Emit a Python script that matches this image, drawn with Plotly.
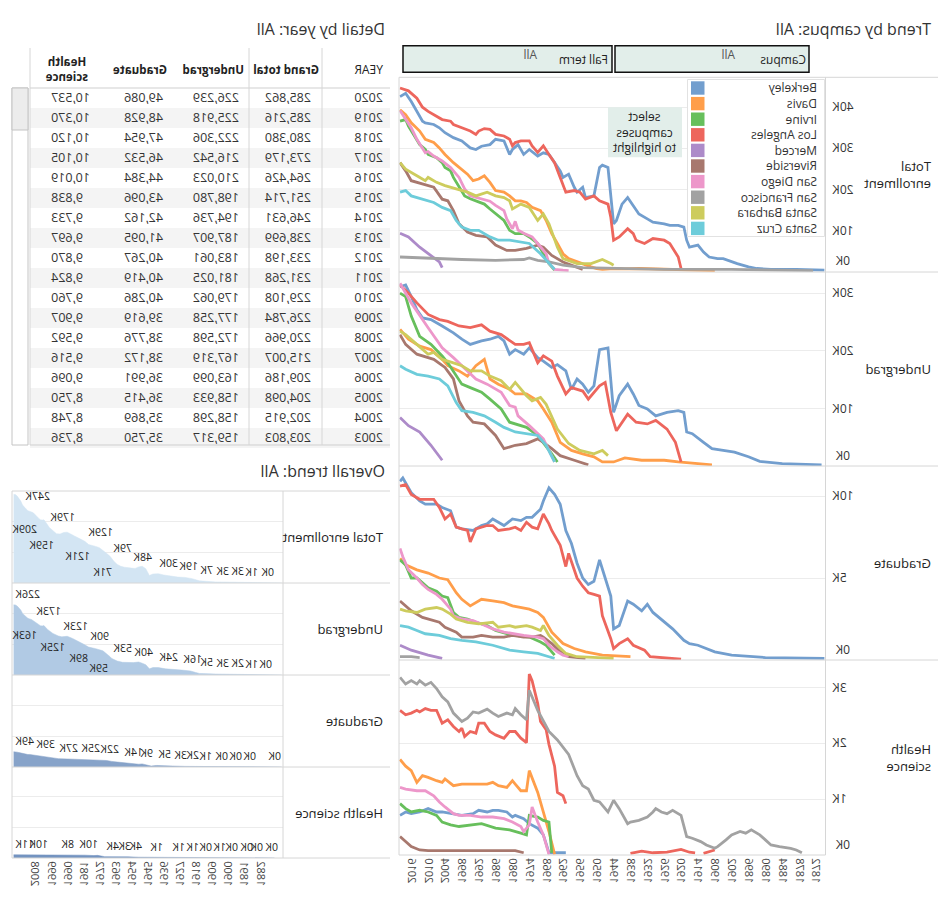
import plotly.graph_objects as go

W, H = 950, 900
FONT = "Open Sans"
INK = "#333333"

# ---------------- categories ----------------
campuses = ["Berkeley", "Davis", "Irvine", "Los Angeles", "Merced", "Riverside",
            "San Diego", "San Francisco", "Santa Barbara", "Santa Cruz"]
metrics = ["Total<br>enrollment", "Undergrad", "Graduate", "Health<br>science"]
overall_metrics = ["Total enrollment", "Undergrad", "Graduate", "Health science"]

# ---------------- detail table ----------------
table_years = [2020, 2019, 2018, 2017, 2016, 2015, 2014, 2013, 2012, 2011, 2010, 2009,
               2008, 2007, 2006, 2005, 2004, 2003]
grand_total = [285862, 285216, 280380, 273179, 264426, 251714, 246631, 238699, 233198,
               231268, 229108, 226784, 220966, 215007, 209186, 204098, 202915, 203803]
undergrad = [226239, 225918, 222306, 216542, 210023, 198780, 194736, 187907, 183061,
             181025, 179062, 177258, 172598, 167319, 163099, 158933, 158298, 159317]
graduate = [49086, 48928, 47954, 46532, 44384, 43096, 42162, 41095, 40267, 40419, 40286,
            39619, 38776, 38172, 36991, 36415, 35869, 35750]
health = [10537, 10370, 10120, 10105, 10019, 9838, 9733, 9697, 9870, 9824, 9760, 9907,
          9592, 9516, 9096, 8750, 8748, 8736]

# ---------------- trend by campus (thousands) ----------------
# Total enrollment
tot_berkeley_yr = [2020, 2018, 2016, 2014, 2012, 2011, 2008, 2006, 2004, 2001, 1998, 1995, 1993, 1991, 1988, 1986, 1983, 1981, 1980, 1978, 1976, 1974, 1971, 1969, 1967, 1965, 1963, 1962, 1960, 1958, 1957, 1955, 1954, 1951, 1949, 1948, 1946, 1944, 1943, 1941, 1939, 1937, 1935, 1932, 1930, 1926, 1924, 1921, 1919, 1918, 1917, 1914, 1912, 1910, 1907, 1905, 1902, 1900, 1896, 1893, 1888, 1879, 1869]
tot_berkeley = [42.6, 43.4, 41.4, 39.0, 36.6, 36.2, 35.8, 35.0, 33.8, 32.6, 31.8, 30.1, 29.7, 30.5, 30.9, 32.2, 31.8, 28.5, 29.7, 30.9, 28.5, 29.7, 28.1, 28.9, 28.5, 26.5, 24.5, 22.9, 23.7, 20.5, 19.3, 20.5, 18.0, 18.4, 25.3, 25.9, 25.3, 11.6, 12.4, 16.4, 18.0, 16.0, 14.0, 12.8, 12.0, 11.6, 11.2, 11.2, 10.8, 7.6, 5.9, 6.4, 4.7, 3.5, 3.1, 3.1, 2.3, 1.9, 1.1, 0.7, 0.5, 0.5, 0.3]
tot_davis_yr = [2020, 2018, 2016, 2013, 2011, 2008, 2006, 2004, 2001, 1999, 1996, 1994, 1992, 1990, 1988, 1986, 1983, 1981, 1979, 1977, 1975, 1973, 1970, 1968, 1966, 1964, 1962, 1960, 1957, 1955, 1952, 1950, 1948, 1944, 1940, 1935, 1930, 1925, 1920, 1915, 1910, 1908]
tot_davis = [39.4, 38.2, 36.2, 34.2, 32.2, 31.4, 30.1, 28.5, 26.5, 25.3, 23.7, 22.1, 22.5, 23.3, 21.7, 19.7, 19.3, 18.4, 17.2, 17.2, 16.8, 15.6, 14.8, 12.4, 9.2, 6.8, 4.3, 3.1, 2.3, 1.9, 1.1, 0.7, 0.5, 0.7, 0.6, 0.7, 0.6, 0.5, 0.5, 0.4, 0.3, 0.2]
tot_irvine_yr = [2020, 2018, 2017, 2015, 2013, 2011, 2010, 2007, 2005, 2004, 2002, 2001, 1999, 1997, 1995, 1993, 1990, 1988, 1986, 1983, 1981, 1979, 1976, 1974, 1971, 1969, 1967, 1965]
tot_irvine = [36.6, 37.0, 35.4, 33.0, 30.9, 29.7, 28.5, 27.7, 26.5, 25.3, 24.5, 22.9, 20.5, 18.4, 17.7, 17.2, 16.4, 15.2, 14.0, 12.4, 10.0, 9.2, 9.2, 8.4, 6.8, 4.3, 1.9, 0.3]
tot_la_yr = [2020, 2017, 2014, 2012, 2010, 2007, 2005, 2002, 2001, 1998, 1995, 1993, 1992, 1990, 1988, 1986, 1983, 1981, 1980, 1979, 1977, 1974, 1973, 1971, 1969, 1967, 1965, 1963, 1961, 1958, 1956, 1954, 1951, 1949, 1946, 1945, 1944, 1942, 1939, 1937, 1936, 1933, 1930, 1926, 1924, 1921, 1920]
tot_la = [44.7, 44.0, 42.2, 40.0, 39.0, 37.8, 37.0, 36.6, 35.8, 35.0, 34.2, 33.4, 34.2, 34.8, 34.6, 33.4, 33.0, 32.2, 30.6, 31.4, 31.8, 31.8, 30.6, 29.0, 30.6, 28.5, 26.5, 22.9, 19.3, 19.7, 19.3, 17.6, 18.4, 17.2, 16.4, 13.2, 7.6, 8.4, 10.4, 9.2, 7.6, 6.8, 8.0, 7.6, 6.8, 3.5, 0.7]
tot_merced_yr = [2020, 2017, 2013, 2010, 2006, 2005]
tot_merced = [9.3, 8.4, 5.9, 4.3, 2.3, 0.9]
tot_riverside_yr = [2020, 2018, 2016, 2012, 2008, 2005, 2003, 2001, 1999, 1996, 1993, 1989, 1986, 1982, 1979, 1975, 1971, 1969, 1966, 1962, 1957, 1955]
tot_riverside = [26.5, 24.5, 22.1, 21.3, 20.5, 17.6, 17.2, 14.8, 11.6, 9.6, 8.8, 8.4, 6.4, 5.1, 5.1, 5.6, 6.4, 5.9, 3.9, 2.3, 1.1, 0.5]
tot_sandiego_yr = [2020, 2016, 2014, 2011, 2010, 2008, 2005, 2002, 1999, 1997, 1995, 1992, 1988, 1986, 1983, 1982, 1980, 1979, 1978, 1976, 1973, 1971, 1968, 1967, 1965, 1962, 1960]
tot_sandiego = [39.2, 35.0, 32.2, 28.9, 29.2, 28.1, 26.9, 25.3, 22.9, 20.1, 18.4, 17.9, 17.1, 16.1, 14.8, 12.8, 10.4, 12.2, 10.1, 9.3, 8.4, 6.8, 4.3, 1.9, 0.5, 0.3, 0.2]
tot_sf_yr = [2020, 2014, 2007, 1998, 1986, 1976, 1974, 1971, 1967, 1962, 1955, 1944, 1926, 1902, 1879, 1873]
tot_sf = [3.5, 3.3, 3.1, 2.9, 2.7, 2.9, 3.3, 2.7, 2.3, 1.5, 0.9, 0.7, 0.5, 0.5, 0.3, 0.2]
tot_sb_yr = [2020, 2018, 2014, 2011, 2010, 2007, 2004, 2000, 1996, 1993, 1989, 1986, 1983, 1981, 1980, 1977, 1974, 1971, 1969, 1967, 1964, 1962, 1957, 1952, 1948, 1945, 1944]
tot_sb = [26.5, 24.9, 23.3, 22.1, 22.9, 21.7, 20.9, 20.1, 19.3, 18.4, 19.3, 18.4, 18.0, 17.2, 15.2, 16.4, 15.6, 12.4, 14.0, 11.6, 5.9, 3.1, 1.9, 1.9, 2.9, 1.9, 1.5]
tot_sc_yr = [2020, 2018, 2016, 2012, 2008, 2005, 2002, 2000, 1998, 1995, 1992, 1988, 1985, 1981, 1977, 1974, 1970, 1967, 1965]
tot_sc = [19.3, 19.7, 18.4, 17.6, 16.8, 15.6, 14.8, 12.4, 10.8, 10.0, 10.0, 8.4, 7.6, 7.6, 7.2, 6.8, 4.3, 1.9, 0.5]

# Undergrad
ug_berkeley_yr = [2020, 2018, 2016, 2014, 2012, 2009, 2005, 2001, 1998, 1995, 1991, 1988, 1985, 1983, 1981, 1979, 1976, 1974, 1971, 1969, 1966, 1964, 1961, 1959, 1957, 1955, 1953, 1951, 1949, 1946, 1944, 1942, 1939, 1937, 1935, 1932, 1929, 1925, 1921, 1919, 1918, 1916, 1912, 1909, 1905, 1901, 1896, 1892, 1884, 1870]
ug_berkeley = [31.1, 31.4, 29.4, 27.1, 25.7, 25.4, 24.3, 23.1, 22.0, 21.1, 21.7, 22.0, 22.5, 21.7, 19.4, 20.2, 19.4, 20.5, 18.8, 18.2, 17.1, 17.6, 16.5, 13.3, 15.1, 14.2, 12.8, 13.9, 20.2, 20.5, 9.3, 12.2, 14.2, 12.5, 10.5, 9.9, 8.7, 9.3, 9.6, 9.3, 5.9, 5.6, 4.1, 3.0, 2.7, 2.4, 1.6, 0.8, 0.4, 0.2]
ug_davis_yr = [2020, 2017, 2013, 2009, 2005, 2003, 1999, 1996, 1993, 1990, 1988, 1985, 1981, 1979, 1975, 1971, 1969, 1966, 1963, 1959, 1955, 1951, 1948, 1944, 1940, 1934, 1926, 1921, 1909]
ug_davis = [23.7, 22.0, 20.8, 20.2, 18.5, 17.4, 16.5, 15.6, 17.4, 18.5, 15.1, 14.2, 13.3, 12.5, 12.5, 11.3, 9.9, 7.6, 4.1, 2.7, 2.1, 1.6, 0.7, 0.7, 1.4, 1.0, 1.0, 0.7, 0.2]
ug_irvine_yr = [2020, 2018, 2016, 2013, 2009, 2005, 2003, 2000, 1998, 1995, 1991, 1988, 1984, 1981, 1979, 1975, 1971, 1969, 1966, 1964]
ug_irvine = [30.0, 29.4, 26.0, 22.5, 21.1, 19.1, 17.9, 15.6, 14.2, 13.6, 12.8, 11.6, 9.9, 7.6, 7.3, 6.7, 5.3, 4.1, 2.1, 0.7]
ug_la_yr = [2020, 2017, 2014, 2010, 2006, 2003, 1999, 1995, 1991, 1988, 1984, 1981, 1979, 1976, 1974, 1971, 1969, 1966, 1964, 1961, 1959, 1955, 1953, 1949, 1947, 1945, 1943, 1939, 1936, 1932, 1929, 1925, 1922, 1920]
ug_la = [31.4, 30.0, 28.3, 26.3, 25.4, 25.1, 24.3, 24.0, 24.5, 23.4, 22.8, 21.7, 21.1, 21.1, 21.4, 17.9, 19.1, 18.2, 15.6, 12.5, 13.6, 13.0, 11.6, 13.9, 14.5, 9.3, 6.1, 9.0, 7.6, 7.3, 7.9, 6.4, 4.1, 0.7]
ug_merced_yr = [2020, 2017, 2013, 2009, 2005]
ug_merced = [8.4, 7.0, 5.9, 3.6, 1.0]
ug_riverside_yr = [2020, 2018, 2014, 2010, 2008, 2004, 2001, 1999, 1996, 1994, 1990, 1986, 1983, 1979, 1975, 1971, 1969, 1966, 1963, 1958, 1953]
ug_riverside = [22.8, 21.1, 19.4, 18.8, 18.5, 17.1, 15.1, 11.3, 8.7, 7.6, 7.3, 5.3, 3.0, 3.6, 3.9, 4.7, 4.1, 3.0, 1.8, 1.0, 0.2]
ug_sandiego_yr = [2020, 2016, 2010, 2005, 2001, 1996, 1993, 1989, 1984, 1981, 1979, 1978, 1974, 1969, 1965]
ug_sandiego = [31.7, 28.3, 24.0, 20.5, 18.8, 16.5, 15.1, 14.2, 12.8, 10.5, 10.2, 8.7, 7.0, 4.7, 0.7]
ug_sf_yr = []
ug_sf = []
ug_sb_yr = [2020, 2018, 2014, 2012, 2010, 2008, 2005, 2001, 1998, 1995, 1991, 1988, 1984, 1981, 1979, 1975, 1973, 1970, 1968, 1964, 1960, 1956, 1951, 1948, 1946]
ug_sb = [23.4, 22.8, 21.1, 20.2, 19.4, 19.7, 18.5, 17.9, 17.4, 16.5, 16.5, 15.6, 14.8, 13.3, 14.5, 12.2, 11.3, 11.9, 10.7, 6.4, 3.9, 2.7, 2.1, 2.7, 1.8]
ug_sc_yr = [2020, 2018, 2014, 2010, 2006, 2003, 2000, 1998, 1994, 1990, 1986, 1983, 1979, 1975, 1971, 1968, 1965]
ug_sc = [17.4, 16.8, 15.9, 15.6, 15.1, 13.9, 11.0, 9.6, 9.3, 8.7, 7.6, 6.7, 5.9, 5.6, 5.3, 3.6, 0.7]

# Graduate
gr_berkeley_yr = [2020, 2019, 2016, 2013, 2011, 2007, 2005, 2002, 2000, 1998, 1994, 1991, 1989, 1987, 1985, 1983, 1980, 1977, 1975, 1973, 1970, 1969, 1967, 1965, 1963, 1961, 1959, 1957, 1955, 1953, 1951, 1949, 1947, 1945, 1944, 1942, 1939, 1937, 1934, 1932, 1930, 1926, 1923, 1919, 1917, 1914, 1908, 1902, 1890, 1869]
gr_berkeley = [10.9, 11.1, 10.2, 9.7, 9.5, 9.5, 9.3, 9.1, 8.1, 8.0, 7.9, 8.2, 8.3, 8.6, 8.4, 8.2, 8.6, 8.5, 8.7, 8.7, 9.2, 9.7, 10.5, 10.1, 9.5, 7.9, 7.1, 5.9, 5.0, 4.6, 4.8, 6.1, 5.0, 3.9, 1.9, 2.1, 3.6, 3.4, 3.0, 3.4, 2.9, 2.3, 1.9, 1.2, 1.0, 0.9, 0.5, 0.3, 0.15, 0.1]
gr_davis_yr = [2020, 2018, 2014, 2012, 2010, 2006, 2003, 2000, 1998, 1995, 1993, 1991, 1987, 1983, 1980, 1977, 1974, 1971, 1969, 1966, 1962, 1958, 1954, 1948, 1938]
gr_davis = [6.2, 5.8, 5.5, 5.4, 5.3, 5.0, 4.9, 4.1, 3.7, 3.3, 3.5, 3.7, 3.6, 3.5, 3.3, 3.2, 3.1, 2.9, 2.6, 1.7, 1.0, 0.7, 0.5, 0.3, 0.2]
gr_irvine_yr = [2020, 2018, 2016, 2014, 2012, 2010, 2007, 2005, 2003, 2001, 1999, 1996, 1993, 1989, 1986, 1982, 1979, 1974, 1970, 1968, 1965]
gr_irvine = [6.1, 5.8, 5.0, 5.0, 4.7, 4.4, 4.2, 3.9, 3.8, 2.9, 2.6, 2.5, 2.3, 2.1, 1.8, 1.6, 1.5, 1.4, 1.1, 0.9, 0.3]
gr_la_yr = [2020, 2018, 2016, 2013, 2011, 2008, 2006, 2004, 2002, 2000, 1998, 1996, 1995, 1993, 1989, 1987, 1985, 1981, 1979, 1977, 1975, 1973, 1971, 1969, 1967, 1966, 1963, 1961, 1960, 1958, 1957, 1955, 1953, 1951, 1949, 1948, 1945, 1944, 1942, 1939, 1937, 1933, 1931, 1920]
gr_la = [10.6, 10.7, 10.1, 9.8, 9.8, 9.8, 9.3, 8.6, 8.9, 8.1, 8.0, 7.9, 7.2, 8.0, 8.2, 8.2, 7.9, 8.0, 8.1, 7.9, 8.4, 8.1, 8.0, 8.9, 8.3, 7.9, 7.0, 5.7, 6.5, 5.5, 5.0, 4.5, 4.1, 4.0, 3.9, 2.7, 1.3, 0.7, 1.0, 1.3, 0.9, 0.6, 0.2, 0.05]
gr_merced_yr = [2020, 2016, 2010, 2005]
gr_merced = [0.9, 0.6, 0.3, 0.1]
gr_riverside_yr = [2020, 2018, 2016, 2012, 2010, 2006, 2004, 2000, 1998, 1994, 1991, 1987, 1983, 1980, 1976, 1973, 1970, 1969, 1966, 1963, 1960, 1954]
gr_riverside = [3.6, 3.3, 3.0, 2.6, 2.5, 2.3, 2.0, 1.7, 1.4, 1.4, 1.5, 1.4, 1.4, 1.5, 1.4, 1.4, 1.5, 1.4, 1.0, 0.5, 0.2, 0.1]
gr_sandiego_yr = [2020, 2019, 2017, 2014, 2012, 2010, 2007, 2005, 2002, 2001, 1998, 1994, 1991, 1987, 1983, 1980, 1976, 1971, 1969, 1967, 1964, 1962, 1960]
gr_sandiego = [6.8, 6.3, 5.5, 5.0, 4.6, 4.3, 4.0, 3.7, 3.1, 2.7, 2.5, 2.4, 2.2, 1.9, 1.7, 1.6, 1.5, 1.4, 1.3, 0.9, 0.5, 0.3, 0.2]
gr_sf_yr = [2020, 2016, 2013]
gr_sf = [0.2, 0.2, 0.15]
gr_sb_yr = [2020, 2018, 2014, 2011, 2007, 2005, 2002, 2000, 1996, 1992, 1987, 1985, 1981, 1979, 1975, 1973, 1970, 1969, 1967, 1964, 1961, 1957, 1944]
gr_sb = [3.1, 3.0, 2.9, 3.1, 3.2, 3.1, 2.8, 2.5, 2.3, 2.2, 2.3, 2.0, 2.1, 2.0, 2.1, 2.0, 1.8, 2.1, 1.5, 0.9, 0.4, 0.2, 0.1]
gr_sc_yr = [2020, 2017, 2014, 2011, 2006, 2002, 1998, 1993, 1987, 1981, 1976, 1971, 1967, 1965]
gr_sc = [2.1, 2.0, 1.8, 1.6, 1.5, 1.3, 1.2, 1.1, 0.9, 0.6, 0.5, 0.4, 0.2, 0.1]

# Health science
hs_berkeley_yr = [2020, 2018, 2016, 2013, 2010, 2007, 2005, 2001, 1998, 1994, 1992, 1989, 1987, 1985, 1982, 1980, 1979, 1976, 1974, 1971, 1969, 1967, 1961]
hs_berkeley = [0.71, 0.77, 0.74, 0.77, 0.83, 0.77, 0.77, 0.74, 0.71, 0.74, 0.80, 0.77, 0.80, 0.80, 0.77, 0.68, 0.71, 0.65, 0.56, 0.48, 0.36, 0.04, 0.04]
hs_davis_yr = [2020, 2018, 2016, 2014, 2012, 2010, 2007, 2005, 2004, 2001, 1998, 1993, 1989, 1987, 1985, 1982, 1980, 1979, 1977, 1975, 1974, 1971, 1969, 1967, 1965]
hs_davis = [1.71, 1.59, 1.51, 1.30, 1.42, 1.39, 1.33, 1.30, 1.36, 1.24, 1.27, 1.27, 1.27, 1.30, 1.24, 1.21, 1.33, 1.27, 1.15, 1.15, 1.51, 1.12, 0.77, 0.42, 0.01]
hs_irvine_yr = [2020, 2018, 2016, 2013, 2010, 2007, 2005, 2002, 1999, 1995, 1991, 1986, 1981, 1977, 1975, 1974, 1971, 1969, 1967, 1966]
hs_irvine = [0.92, 0.83, 0.77, 0.80, 0.77, 0.71, 0.59, 0.54, 0.51, 0.54, 0.56, 0.48, 0.45, 0.39, 0.36, 0.71, 0.68, 0.62, 0.59, 0.04]
hs_la_yr = [2020, 2018, 2016, 2014, 2013, 2011, 2009, 2007, 2005, 2003, 2001, 1999, 1998, 1997, 1995, 1993, 1992, 1990, 1988, 1986, 1983, 1981, 1979, 1977, 1975, 1974, 1973, 1971, 1970, 1968, 1967, 1965, 1964, 1962, 1961, None, 1938, 1934, 1930, 1925, 1920, 1917, 1915, None, 1912, 1910, 1908]
hs_la = [2.59, 2.51, 2.54, 2.59, 2.56, 2.62, 2.59, 2.59, 2.36, 2.42, 2.30, 2.21, 2.27, 2.12, 2.21, 2.18, 2.36, 2.36, 2.21, 2.15, 2.09, 2.21, 2.21, 2.09, 2.01, 3.24, 3.12, 2.71, 2.39, 2.24, 1.98, 1.59, 1.12, 1.06, 0.92, None, 0.03, 0.07, 0.04, 0.05, 0.10, 0.05, 0.04, None, 0.03, 0.06, 0.09]
hs_merced_yr = []
hs_merced = []
hs_riverside_yr = [2020, 2018, 2016, 2013, 2010, 1998, 1986, 1979, 1976]
hs_riverside = [0.33, 0.24, 0.15, 0.09, 0.08, 0.08, 0.08, 0.08, 0.04]
hs_sandiego_yr = [2020, 2018, 2014, 2011, 2008, 2006, 2004, 2001, 1999, 1995, 1991, 1987, 1983, 1980, 1977, 1976, 1974, 1973, 1971, 1969, 1967]
hs_sandiego = [1.21, 1.18, 1.15, 1.15, 1.06, 0.95, 0.86, 0.74, 0.71, 0.71, 0.68, 0.68, 0.65, 0.59, 0.51, 0.42, 0.54, 0.86, 0.59, 0.36, 0.01]
hs_sf_yr = [2020, 2018, 2016, 2014, 2013, 2011, 2009, 2007, 2005, 2003, 2001, 1998, 1996, 1994, 1992, 1989, 1987, 1985, 1982, 1980, 1979, 1977, 1975, 1974, 1971, 1969, 1967, 1964, 1962, 1960, 1957, 1955, 1953, 1951, 1949, 1946, 1944, 1942, 1939, 1938, 1935, 1932, 1930, 1929, 1927, 1925, 1923, 1920, 1918, 1916, 1913, 1911, 1908, 1907, 1904, 1902, 1899, 1897, 1895, 1892, 1890, 1888, 1885, 1883, 1881, 1879, 1877]
hs_sf = [3.18, 3.06, 3.12, 3.06, 3.12, 3.04, 3.09, 2.98, 2.83, 2.74, 2.54, 2.39, 2.45, 2.56, 2.54, 2.61, 2.54, 2.48, 2.54, 2.51, 2.62, 2.51, 2.42, 2.95, 2.59, 2.39, 2.21, 2.06, 1.92, 1.80, 1.42, 1.24, 1.18, 0.98, 0.95, 0.77, 0.98, 0.83, 0.56, 0.59, 0.62, 0.68, 0.77, 0.83, 0.77, 0.74, 0.80, 0.71, 0.33, 0.30, 0.24, 0.18, 0.12, 0.15, 0.27, 0.36, 0.42, 0.39, 0.45, 0.36, 0.27, 0.18, 0.15, 0.14, 0.12, 0.09, 0.04]
hs_sb_yr = []
hs_sb = []
hs_sc_yr = []
hs_sc = []

# ---------------- overall trend (thousands, before the table years) ----------------
ov_total_hist_yr = [2002, 2000, 1998, 1996, 1994, 1992, 1990, 1988, 1986, 1984, 1982, 1980, 1979, 1978, 1976, 1974, 1972, 1970, 1968, 1966, 1965, 1964, 1962, 1960, 1958, 1956, 1954, 1952, 1950, 1948, 1946, 1944, 1943, 1942, 1940, 1939, 1936, 1932, 1928, 1924, 1920, 1916, 1912, 1907, 1904, 1899, 1895, 1891, 1887, 1882, 1876, 1870]
ov_total_hist = [196, 179, 168, 159, 158, 163, 164, 158, 152, 147, 140, 134, 129, 124, 121, 118, 114, 106, 96, 86, 79, 71, 60, 54, 51, 49, 48, 47, 52, 54, 46, 24, 27, 29, 30, 30, 26, 22, 19, 18, 14, 7, 5.5, 3.4, 3.1, 2.6, 1.5, 1.2, 0.8, 0.4, 0.3, 0.2]
ov_ug_hist_yr = [2001, 1998, 1995, 1993, 1990, 1987, 1984, 1981, 1978, 1977, 1974, 1970, 1968, 1966, 1965, 1962, 1959, 1956, 1953, 1950, 1948, 1946, 1944, 1942, 1939, 1935, 1931, 1926, 1921, 1918, 1916, 1911, 1907, 1903, 1899, 1895, 1891, 1887, 1883, 1876, 1870]
ov_ug_hist = [147, 134, 126, 123, 125, 118, 110, 100, 90, 89, 85, 78, 68, 59, 53, 45, 41, 40, 40, 42, 38, 33, 20, 24, 24, 20, 17, 16, 13, 8, 5, 4, 3, 2.4, 2, 1.3, 1.0, 0.6, 0.4, 0.2, 0.1]
ov_gr_hist_yr = [2000, 1995, 1990, 1983, 1978, 1972, 1968, 1965, 1962, 1959, 1955, 1950, 1948, 1945, 1943, 1940, 1935, 1931, 1924, 1917, 1908, 1900, 1892, 1884, 1878, 1870]
ov_gr_hist = [31, 27, 26, 25, 24, 22, 21, 18, 16, 14, 11, 9, 10, 5, 3, 5, 4, 3, 2, 1, 0.4, 0.2, 0.1, 0.05, 0.05, 0.05]
ov_hs_hist_yr = [2000, 1994, 1990, 1984, 1980, 1975, 1973, 1969, 1962, 1956, 1950, 1944, 1932, 1924, 1917, 1909, 1902, 1894, 1888, 1880, 1874]
ov_hs_hist = [8.5, 8.2, 9.0, 9.6, 9.3, 8.0, 8.6, 4.4, 3.2, 3.8, 2.5, 1.2, 0.9, 0.8, 0.4, 0.6, 0.3, 0.3, 0.2, 0.1, 0.05]

# labelled years on the overall areas
lab_total_yr = [2014, 2006, 2000, 1996, 1979, 1976, 1965, 1964, 1954, 1939, 1928, 1916, 1907, 1899, 1891, 1882]
lab_ug_yr = [2020, 2008, 2006, 1993, 1990, 1978, 1977, 1965, 1966, 1953, 1939, 1926, 1916, 1907, 1899, 1891, 1883]
lab_gr_yr = [2020, 2008, 1995, 1983, 1972, 1959, 1950, 1940, 1931, 1924, 1917, 1908, 1900, 1892, 1878]
lab_hs_yr = [2020, 2012, 1994, 1984, 1969, 1962, 1956, 1944, 1932, 1924, 1917, 1909, 1902, 1894, 1888, 1880]

# tick labels
trend_xticks = [1872, 1878, 1884, 1890, 1896, 1902, 1908, 1914, 1920, 1926, 1932, 1938, 1944,
                1950, 1956, 1962, 1968, 1974, 1980, 1986, 1992, 1998, 2004, 2010, 2016]
overall_xticks = [1882, 1891, 1900, 1909, 1918, 1927, 1936, 1945, 1954, 1963, 1972, 1981,
                  1990, 1999, 2008]
trend_yticks = [[10, 20, 30, 40], [10, 20, 30], [5, 10], [1, 2, 3]]

# ================= styles =================
campus_colors = ["#729ece", "#ff9e4a", "#67bf5c", "#ed665d", "#ad8bc9", "#a8786e",
                 "#ed97ca", "#a2a2a2", "#cdcc5d", "#6dccda"]
area_colors = ["#d3e5f3", "#b1cae4", "#87a3c9", "#7393c0"]
# label placement on overall areas: a = above/before point, b = below/after point
lab_total_side = ["a", "b", "a", "b", "a", "b", "a", "b", "a", "a", "a", "a", "a", "a", "a", "a"]
lab_ug_side = ["a", "a", "b", "a", "b", "a", "b", "a", "b", "a", "a", "a", "a", "a", "a", "a", "a"]
lab_gr_side = ["a"] * len(lab_gr_yr)
lab_hs_side = ["a"] * len(lab_hs_yr)

trend_rows = [(77.3, 272), (272, 466), (466, 660), (660, 855)]
trend_yranges = [[-0.15, 47.3], [0, 33.66], [0, 11.83], [0, 3.49]]
trend_X = (124.5, 551)
trend_xrange = [1868.6, 2020.36]
over_rows = [(491, 583), (583, 675), (675, 767), (767, 858)]
over_X = (667, 938)
over_xrange = [1869.2, 2020.9]
over_yrange = [0, 296.8]

# ================= assemble =================
series_by_metric = [
    [(tot_berkeley_yr, tot_berkeley), (tot_davis_yr, tot_davis), (tot_irvine_yr, tot_irvine),
     (tot_la_yr, tot_la), (tot_merced_yr, tot_merced), (tot_riverside_yr, tot_riverside),
     (tot_sandiego_yr, tot_sandiego), (tot_sf_yr, tot_sf), (tot_sb_yr, tot_sb), (tot_sc_yr, tot_sc)],
    [(ug_berkeley_yr, ug_berkeley), (ug_davis_yr, ug_davis), (ug_irvine_yr, ug_irvine),
     (ug_la_yr, ug_la), (ug_merced_yr, ug_merced), (ug_riverside_yr, ug_riverside),
     (ug_sandiego_yr, ug_sandiego), (ug_sf_yr, ug_sf), (ug_sb_yr, ug_sb), (ug_sc_yr, ug_sc)],
    [(gr_berkeley_yr, gr_berkeley), (gr_davis_yr, gr_davis), (gr_irvine_yr, gr_irvine),
     (gr_la_yr, gr_la), (gr_merced_yr, gr_merced), (gr_riverside_yr, gr_riverside),
     (gr_sandiego_yr, gr_sandiego), (gr_sf_yr, gr_sf), (gr_sb_yr, gr_sb), (gr_sc_yr, gr_sc)],
    [(hs_berkeley_yr, hs_berkeley), (hs_davis_yr, hs_davis), (hs_irvine_yr, hs_irvine),
     (hs_la_yr, hs_la), (hs_merced_yr, hs_merced), (hs_riverside_yr, hs_riverside),
     (hs_sandiego_yr, hs_sandiego), (hs_sf_yr, hs_sf), (hs_sb_yr, hs_sb), (hs_sc_yr, hs_sc)],
]

overall = [
    (table_years + ov_total_hist_yr, [v / 1000 for v in grand_total] + ov_total_hist),
    (table_years + ov_ug_hist_yr, [v / 1000 for v in undergrad] + ov_ug_hist),
    (table_years + ov_gr_hist_yr, [v / 1000 for v in graduate] + ov_gr_hist),
    (table_years + ov_hs_hist_yr, [v / 1000 for v in health] + ov_hs_hist),
]
overall_labels = [(lab_total_yr, lab_total_side), (lab_ug_yr, lab_ug_side),
                  (lab_gr_yr, lab_gr_side), (lab_hs_yr, lab_hs_side)]


def px(X):
    return X / W


def py(Y):
    return 1 - Y / H


def axn(i):
    return "" if i == 1 else str(i)


shapes, annotations = [], []


def seg(X0, Y0, X1, Y1, color="#d6d6d6", width=1):
    shapes.append(dict(type="line", xref="paper", yref="paper", x0=px(X0), y0=py(Y0),
                       x1=px(X1), y1=py(Y1), line=dict(color=color, width=width), layer="above"))


def rect(X0, Y0, X1, Y1, fill, color=None, width=0):
    shapes.append(dict(type="rect", xref="paper", yref="paper", x0=px(X0), y0=py(Y1),
                       x1=px(X1), y1=py(Y0), fillcolor=fill,
                       line=dict(color=color or fill, width=width), layer="above"))


def txt(s, X, Y, size=12, anchor="left", color=INK, bold=False):
    annotations.append(dict(text=("<b>%s</b>" % s) if bold else s, x=px(X), y=py(Y),
                            xref="paper", yref="paper", xanchor=anchor, yanchor="middle",
                            showarrow=False, align=anchor,
                            font=dict(family=FONT, size=size, color=color)))


fig = go.Figure()
layout_axes = {}

# ---- trend by campus small multiples ----
for m in range(4):
    i = m + 1
    Y0, Y1 = trend_rows[m]
    for c, (yrs, vals) in enumerate(series_by_metric[m]):
        if not yrs:
            continue
        fig.add_trace(go.Scatter(x=yrs, y=vals, mode="lines", name=campuses[c],
                                 line=dict(color=campus_colors[c], width=2.8),
                                 xaxis="x" + axn(i), yaxis="y" + axn(i),
                                 hoverinfo="skip", showlegend=False))
    layout_axes["xaxis" + axn(i)] = dict(
        domain=[px(trend_X[0]), px(trend_X[1])], range=trend_xrange, anchor="y" + axn(i),
        showgrid=False, zeroline=False, showline=False, ticks="", automargin=False,
        showticklabels=(m == 3), tickmode="array", tickvals=trend_xticks,
        ticktext=[str(t) for t in trend_xticks], tickangle=-90,
        tickfont=dict(family=FONT, size=11, color="#444"))
    layout_axes["yaxis" + axn(i)] = dict(
        domain=[py(Y1), py(Y0)], range=trend_yranges[m], anchor="x" + axn(i),
        tickmode="array", tickvals=trend_yticks[m],
        ticktext=["%dK" % t for t in trend_yticks[m]], showgrid=True, gridcolor="#ececec",
        gridwidth=1, zeroline=False, showline=False, ticks="", automargin=False,
        ticklabelstandoff=6, tickfont=dict(family=FONT, size=12, color=INK))
    # the zero label sits just inside the pane, as in the original dashboard
    annotations.append(dict(text="0K", x=px(trend_X[0] - 7.5), y=0, xref="paper",
                            yref="y" + axn(i), xanchor="right", yanchor="bottom",
                            showarrow=False, font=dict(family=FONT, size=12, color=INK)))
    txt(metrics[m], 17, (Y0 + Y1) / 2, size=13, color="#222")

# ---- overall trend areas ----
for k in range(4):
    i = k + 5
    Y0, Y1 = over_rows[k]
    yrs, vals = overall[k]
    pairs = sorted(zip(yrs, vals))
    fig.add_trace(go.Scatter(x=[p[0] for p in pairs], y=[p[1] for p in pairs], mode="lines",
                             fill="tozeroy", fillcolor=area_colors[k],
                             line=dict(color=area_colors[k], width=0.5),
                             xaxis="x" + axn(i), yaxis="y" + axn(i),
                             hoverinfo="skip", showlegend=False))
    layout_axes["xaxis" + axn(i)] = dict(
        domain=[px(over_X[0]), px(over_X[1])], range=over_xrange, anchor="y" + axn(i),
        showgrid=False, zeroline=False, showline=False, ticks="", automargin=False,
        showticklabels=(k == 3), tickmode="array", tickvals=overall_xticks,
        ticktext=[str(t) for t in overall_xticks], tickangle=-90,
        tickfont=dict(family=FONT, size=11, color="#444"))
    layout_axes["yaxis" + axn(i)] = dict(
        domain=[py(Y1), py(Y0)], range=over_yrange, anchor="x" + axn(i),
        tickmode="array", tickvals=[100, 200], showticklabels=False, showgrid=True,
        gridcolor="#ececec", zeroline=False, showline=False, ticks="", automargin=False)
    txt(overall_metrics[k], 565, (Y0 + Y1) / 2, size=13, color="#222")
    lookup = dict(zip(yrs, vals))
    for ly, side in zip(*overall_labels[k]):
        v = lookup[ly]
        up = side == "a"
        annotations.append(dict(text="%dK" % int(v + 0.5), x=ly, y=v,
                                xref="x" + axn(i), yref="y" + axn(i),
                                xanchor="right" if up else "left", yanchor="middle",
                                xshift=0 if up else 1, yshift=11 if up else -11,
                                borderpad=0, showarrow=False,
                                font=dict(family=FONT, size=10.5, color="#222")))

# ---- grid / frame lines ----
for Y in [77.3, 272, 466, 660]:
    seg(12, Y, trend_X[1], Y)
seg(trend_X[0], 855, trend_X[1], 855)
seg(trend_X[0], 77.3, trend_X[0], 855)
seg(trend_X[1], 77.3, trend_X[1], 855)
for Y in [491, 583, 675, 767, 858]:
    seg(560, Y, 938, Y)
seg(over_X[0], 491, over_X[0], 858)
seg(over_X[1], 491, over_X[1], 858)

# ---- titles ----
txt("Trend by campus: All", 17, 29.3, size=16)
txt("Detail by year: All", 563, 29.3, size=16)
txt("Overall trend: All", 563, 470.7, size=16)

# ---- filter controls ----
rect(141, 45.7, 335, 72.3, "#e2eeea", "#111111", 1.5)
rect(338, 45.7, 547, 72.3, "#e2eeea", "#111111", 1.5)
txt("Campus", 142, 60, size=12, color="#222")
txt("All", 222, 54, size=12, anchor="center", color="#555")
txt("Fall term", 340, 60, size=12, color="#222")
txt("All", 420, 54, size=12, anchor="center", color="#555")

# ---- legend (drawn from campus list) ----
rect(125.5, 79.5, 262.5, 236.5, "white", "#e2e2e2", 1)
for c, name in enumerate(campuses):
    top = 81.3 + 15.6 * c
    rect(245.5, top, 259, top + 13.4, campus_colors[c])
    txt(name, 131, top + 6.7, size=12, color="#333")

rect(268, 107.3, 342, 157.3, "#e2eeea")
txt("select<br>campuses<br>to highlight", 305, 132.3, size=12, anchor="center", color="#222")

# ---- detail table ----
row_h = 20
for r, yr in enumerate(table_years):
    if r % 2 == 1:
        rect(560, 88 + r * row_h, 920, 88 + (r + 1) * row_h, "#f4f4f4")
seg(560, 88, 920, 88, "#cfcfcf")
seg(560, 445, 920, 445, "#cfcfcf")
for X in [628, 701, 920]:
    seg(X, 48, X, 445, "#d6d6d6")
rect(922, 88, 938, 445, "white", "#c4c4c4", 1)
rect(922, 88, 938, 130, "#ececec", "#c4c4c4", 1)

txt("YEAR", 565, 69, size=12, color="#222")
headers = ["Grand total", "Undergrad", "Graduate", "Health<br>science"]
head_x = [663.5, 736.5, 809.5, 883]
for h, hx in zip(headers, head_x):
    txt(h, hx, 69, size=11.5, anchor="center", color="#222", bold=True)

num_x = [687, 759, 828, 901]
for r, yr in enumerate(table_years):
    yc = 97.7 + r * row_h
    txt(str(yr), 565, yc, size=12.5, color=INK)
    for col, vals in enumerate([grand_total, undergrad, graduate, health]):
        txt("{:,}".format(vals[r]), num_x[col], yc, size=12.5, anchor="right", color=INK)

fig.update_layout(
    width=W, height=H, autosize=False, template="none",
    margin=dict(l=0, r=0, t=0, b=0, pad=0),
    paper_bgcolor="white", plot_bgcolor="rgba(0,0,0,0)",
    font=dict(family=FONT, size=12, color=INK),
    showlegend=False, shapes=shapes, annotations=annotations,
    **layout_axes)

mirror_js = (
    "document.body.style.margin='0';"
    "document.body.style.overflow='hidden';"
    "var gd=document.getElementById('{plot_id}');"
    "gd.style.transform='scaleX(-1)';"
    "gd.style.transformOrigin='475px 0px';"
)
fig.write_html("out.html", include_plotlyjs=True, post_script=mirror_js,
               config={"displayModeBar": False, "staticPlot": True})
